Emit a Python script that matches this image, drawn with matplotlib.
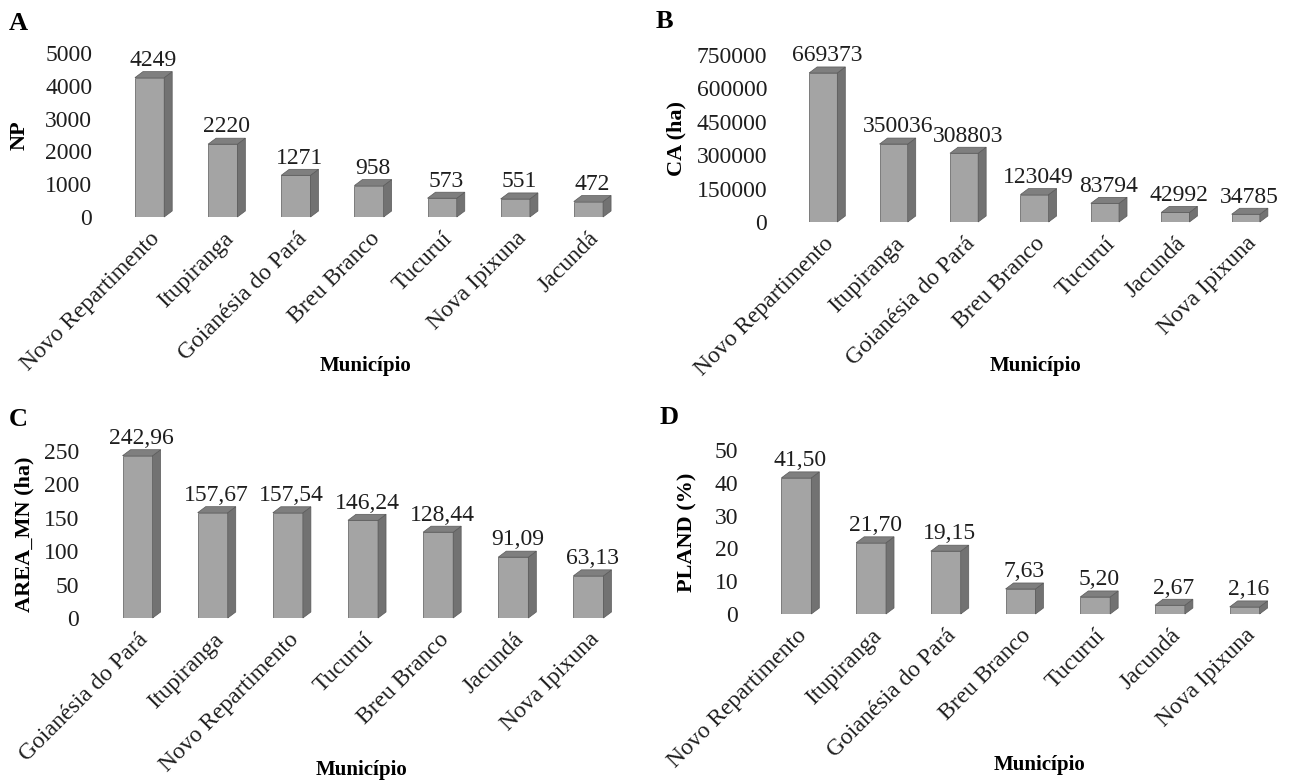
import numpy as np
import matplotlib
matplotlib.use('Agg')
import matplotlib.pyplot as plt
from matplotlib.patches import Polygon

plt.rcParams['font.family'] = 'Liberation Serif'

W, H = 1294, 782

# Panel A - NP
cats_a = ['Novo Repartimento', 'Itupiranga', 'Goianésia do Pará', 'Breu Branco',
          'Tucuruí', 'Nova Ipixuna', 'Jacundá']
np_vals = [4249, 2220, 1271, 958, 573, 551, 472]

# Panel B - CA (ha)
cats_b = ['Novo Repartimento', 'Itupiranga', 'Goianésia do Pará', 'Breu Branco',
          'Tucuruí', 'Jacundá', 'Nova Ipixuna']
ca_vals = [669373, 350036, 308803, 123049, 83794, 42992, 34785]

# Panel C - AREA_MN (ha)
cats_c = ['Goianésia do Pará', 'Itupiranga', 'Novo Repartimento', 'Tucuruí',
          'Breu Branco', 'Jacundá', 'Nova Ipixuna']
area_vals = [242.96, 157.67, 157.54, 146.24, 128.44, 91.09, 63.13]

# Panel D - PLAND (%)
cats_d = cats_b
pland_vals = [41.50, 21.70, 19.15, 7.63, 5.20, 2.67, 2.16]

FRONT = '#a4a4a4'
SIDE = '#727272'
TOP = '#7f7f7f'
EDGE = '#5a5a5a'
TXT = '#1e1e1e'


def px_axes(fig, left, right, top, bottom):
    return fig.add_axes([left / W, 1 - bottom / H, (right - left) / W, (bottom - top) / H])


def bar3d(ax, cats, vals, ymax, yticks, fmt, dx_px=8, dy_px=6):
    x = np.arange(len(vals))
    w = 0.4
    ax.set_xlim(-0.5, len(vals) - 0.5)
    ax.set_ylim(0, ymax)
    pos = ax.get_position()
    ppx = pos.width * W / len(vals)
    ppy = pos.height * H / ymax
    ddx, ddy = dx_px / ppx, dy_px / ppy

    ax.bar(x, vals, w, color=FRONT, edgecolor=EDGE, linewidth=0.5, zorder=3)
    for xi, v in zip(x, vals):
        x0, x1 = xi - w / 2, xi + w / 2
        top = Polygon([(x0, v), (x1, v), (x1 + ddx, v + ddy), (x0 + ddx, v + ddy)],
                      closed=True, facecolor=TOP, edgecolor=EDGE, lw=0.5, zorder=3, clip_on=False)
        side = Polygon([(x1, 0), (x1 + ddx, ddy), (x1 + ddx, v + ddy), (x1, v)],
                       closed=True, facecolor=SIDE, edgecolor=EDGE, lw=0.5, zorder=3, clip_on=False)
        ax.add_patch(side)
        ax.add_patch(top)
        ax.annotate(fmt(v), (xi + ddx / 2, v + ddy), xytext=(0, 0.5),
                    textcoords='offset points', ha='center', va='bottom',
                    fontsize=17, color=TXT, annotation_clip=False)

    ax.set_yticks(yticks)
    ax.set_yticklabels([str(t) for t in yticks], fontsize=17, color=TXT)
    ax.set_xticks(x)
    ax.set_xticklabels(cats, rotation=45, ha='right', va='top',
                       rotation_mode='anchor', fontsize=17, color=TXT)
    ax.tick_params(axis='y', length=0, pad=15)
    ax.tick_params(axis='x', length=0, pad=8)
    for s in ax.spines.values():
        s.set_visible(False)
    ax.patch.set_alpha(0)


def comma(v):
    return ('%.2f' % v).replace('.', ',')


fig = plt.figure(figsize=(W / 100, H / 100), dpi=100)

ax_a = px_axes(fig, 113, 625, 53, 217)
bar3d(ax_a, cats_a, np_vals, 5000, [0, 1000, 2000, 3000, 4000, 5000], lambda v: '%d' % v)

ax_b = px_axes(fig, 788, 1281, 55, 222)
bar3d(ax_b, cats_b, ca_vals, 750000, [0, 150000, 300000, 450000, 600000, 750000],
      lambda v: '%d' % v)

ax_c = px_axes(fig, 100, 626, 451, 618)
bar3d(ax_c, cats_c, area_vals, 250, [0, 50, 100, 150, 200, 250], comma)

ax_d = px_axes(fig, 759, 1282, 450, 614)
bar3d(ax_d, cats_d, pland_vals, 50, [0, 10, 20, 30, 40, 50], comma)


def ftext(x, y, s, **kw):
    fig.text(x / W, 1 - y / H, s, **kw)


# y axis labels
ftext(20, 135, 'NP', rotation=90, ha='center', va='center', fontsize=16, fontweight='bold')
ftext(676, 138, 'CA (ha)', rotation=90, ha='center', va='center', fontsize=16, fontweight='bold')
ftext(24, 534, 'AREA_MN (ha)', rotation=90, ha='center', va='center', fontsize=16, fontweight='bold')
ftext(687, 532, 'PLAND (%)', rotation=90, ha='center', va='center', fontsize=16, fontweight='bold')

# x axis labels
ftext(366, 366, 'Município', ha='center', va='center', fontsize=15, fontweight='bold')
ftext(1035, 366, 'Município', ha='center', va='center', fontsize=15, fontweight='bold')
ftext(362, 770, 'Município', ha='center', va='center', fontsize=15, fontweight='bold')
ftext(1040, 765, 'Município', ha='center', va='center', fontsize=15, fontweight='bold')

# panel letters
ftext(18, 24, 'A', ha='center', va='center', fontsize=19, fontweight='bold')
ftext(664, 22, 'B', ha='center', va='center', fontsize=19, fontweight='bold')
ftext(18, 420, 'C', ha='center', va='center', fontsize=19, fontweight='bold')
ftext(669, 418, 'D', ha='center', va='center', fontsize=19, fontweight='bold')

fig.savefig('out.png', dpi=100)
